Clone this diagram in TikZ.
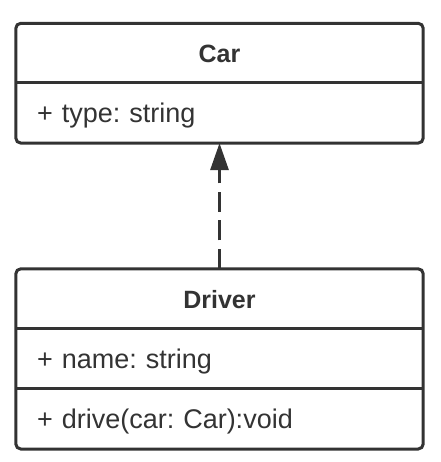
\documentclass[tikz,border=0pt]{standalone}
\usepackage{fontspec}
\setmainfont{Liberation Sans}
\usetikzlibrary{positioning,arrows.meta}
\definecolor{umlgray}{RGB}{51,51,51}
\frenchspacing

\begin{document}
\begin{tikzpicture}[x=1pt,y=1pt,
	umlline/.style={draw=umlgray, line width=3pt},
	classname/.style={minimum width=407pt, minimum height=59pt, inner sep=0pt,
		text height=24pt, text depth=4.5pt, text=umlgray,
		font=\bfseries\fontsize{25}{30}\selectfont},
	classrow/.style={minimum height=60pt, inner xsep=21pt, inner ysep=0pt,
		text width=365pt, align=left, text height=24pt, text depth=4.5pt,
		text=umlgray, font=\fontsize{27}{30}\selectfont},
	]
\useasboundingbox (0,0) rectangle (440,-462);

%----------------------------
% Class Car
%----------------------------
\node[classname] (car) at (219.5,-53) {Car};
\node[classrow, below=0pt of car] (car-type) {+ type: string};
\draw[umlline, rounded corners=5pt] (car.north west) rectangle (car-type.south east);
\draw[umlline] (car.south west) -- (car.south east);

%----------------------------
% Class Driver
%----------------------------
\node[classname] (driver) at (219.5,-298.5) {Driver};
\node[classrow, below=0pt of driver] (driver-name) {+ name: string};
\node[classrow, below=0pt of driver-name] (driver-drive) {+ drive(car: Car):void};
\draw[umlline, rounded corners=5pt] (driver.north west) rectangle (driver-drive.south east);
\draw[umlline] (driver.south west) -- (driver.south east);
\draw[umlline] (driver-name.south west) -- (driver-name.south east);

% dependency: Driver uses Car
\draw[umlline, dash pattern=on 20pt off 8.5pt, -{Triangle[length=27pt,width=18pt]}]
(driver.north) -- (car-type.south);
\end{tikzpicture}
\end{document}
